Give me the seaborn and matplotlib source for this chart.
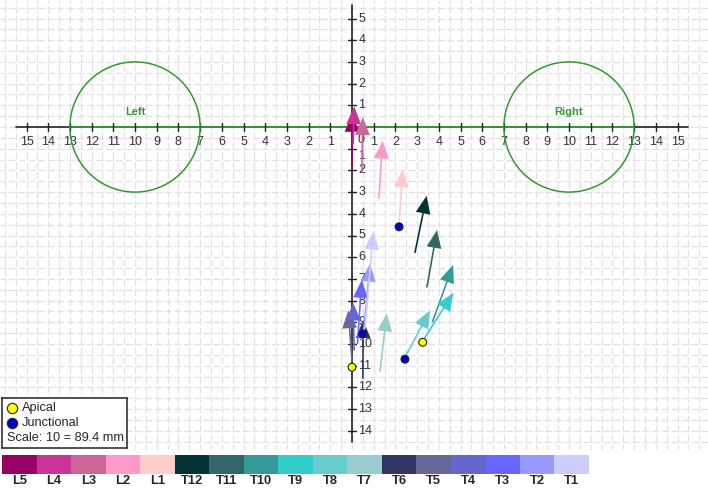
import matplotlib
matplotlib.use('Agg')
import matplotlib.pyplot as plt
from matplotlib.colors import ListedColormap
from matplotlib.patches import Circle
import seaborn as sns
import pandas as pd
import numpy as np

# vertebra levels and their colours
levels = ['L5', 'L4', 'L3', 'L2', 'L1', 'T12', 'T11', 'T10', 'T9',
          'T8', 'T7', 'T6', 'T5', 'T4', 'T3', 'T2', 'T1']
level_colors = ['#990066', '#cc3399', '#cc6699', '#ff99cc', '#ffcccc',
                '#003333', '#336666', '#339999', '#33cccc', '#66cccc',
                '#99cccc', '#333366', '#666699', '#6666cc', '#6666ff',
                '#9999ff', '#ccccff']

# arrow tails and tips (chart units)
tail_x = [0.0, 0.05, 0.45, 1.24, 2.17, 2.9, 3.45, 3.7, 3.3, 2.45, 1.29,
          0.5, 0.0, 0.1, 0.25, 0.5, 0.6]
tail_y = [-1.9, -0.8, -2.1, -3.3, -4.5, -5.8, -7.4, -9.0, -9.8, -10.6,
          -11.27, -11.6, -10.8, -10.3, -10.0, -9.8, -9.3]
tip_x = [0.0, 0.1, 0.5, 1.41, 2.33, 3.44, 3.92, 4.66, 4.67, 3.6, 1.6,
         0.52, -0.17, 0.05, 0.45, 0.83, 0.98]
tip_y = [0.6, 0.95, 0.45, -0.63, -1.95, -3.17, -4.75, -6.36, -7.64,
         -8.45, -8.59, -8.9, -8.45, -8.1, -7.05, -6.3, -4.82]

# apical / junctional points
point_kind = ['Apical', 'Apical', 'Junctional', 'Junctional', 'Junctional']
point_x = [3.26, 0.0, 2.17, 2.44, 0.49]
point_y = [-9.92, -11.07, -4.6, -10.7, -9.54]

x_ticks = list(range(-15, 16))
y_ticks = list(range(-14, 6))

sns.set_style('white')
plt.rcParams['font.family'] = ['Liberation Sans', 'DejaVu Sans']

fig = plt.figure(figsize=(7.08, 4.88), dpi=100)
ax = fig.add_axes([0, 1 - 450 / 488, 1, 450 / 488])
ax.set_xlim(-352 / 21.7, (708 - 352) / 21.7)
ax.set_ylim(-(450 - 127) / 21.7, 127 / 21.7)
ax.set_aspect('equal')
ax.axis('off')

# background grid
grid_vals_x = np.arange(-16, 16.6, 0.5)
grid_vals_y = np.arange(-15, 6.1, 0.5)
for gx in grid_vals_x:
    ax.axvline(gx, color='#e2e2e2', lw=0.9, ls=(1.2, (5.6, 2.2)), zorder=0)
for gy in grid_vals_y:
    ax.axhline(gy, color='#e2e2e2', lw=0.9, ls=(1.2, (5.6, 2.2)), zorder=0)

# axes
ax.plot([-15.5, 15.5], [0, 0], color='#222222', lw=1.2, zorder=1)
ax.plot([-13, 13], [0, 0], color='#339933', lw=1.4, zorder=1)
ax.plot([0, 0], [-14.5, 5.6], color='#222222', lw=1.2, zorder=1)
for t in x_ticks:
    ax.plot([t, t], [-0.2, 0.2], color='#222222', lw=1, zorder=1)
    lab = str(abs(t))
    xpos = 0.4 if t == 0 else t
    ypos = -0.6 if t == 0 else -0.7
    ax.text(xpos, ypos, lab, ha='center', va='center', fontsize=9,
            color='#333333', zorder=1)
for t in y_ticks:
    if t == 0:
        continue
    ax.plot([-0.2, 0.2], [t, t], color='#222222', lw=1, zorder=1)
    ypos = -1.32 if t == -1 else t
    ax.text(0.3, ypos, str(abs(t)), ha='left', va='center', fontsize=9,
            color='#333333', zorder=1)

# left / right circles
for cx, name in [(-10, 'Left'), (10, 'Right')]:
    ax.add_patch(Circle((cx, 0), 3, fill=False, ec='#339933', lw=1.1,
                        zorder=1))
    ax.text(cx, 0.68, name, ha='center', va='center', fontsize=8,
            color='#339933', fontweight='bold', zorder=1)

# vertebra arrows
for i in range(len(levels)):
    ax.arrow(tail_x[i], tail_y[i], tip_x[i] - tail_x[i], tip_y[i] - tail_y[i],
             width=0.075, head_width=0.68, head_length=0.82,
             length_includes_head=True, color=level_colors[i], lw=0,
             zorder=3)

pts = pd.DataFrame({'x': point_x, 'y': point_y, 'kind': point_kind})
sns.scatterplot(data=pts, x='x', y='y', hue='kind',
                palette={'Apical': '#ffff00', 'Junctional': '#0000cc'},
                s=32, edgecolor='#222222', linewidth=0.8, legend=False,
                ax=ax, zorder=5)

# legend box
ax_leg = fig.add_axes([2 / 708, 1 - 448 / 488, 125 / 708, 50 / 488])
ax_leg.set_xlim(0, 125)
ax_leg.set_ylim(50, 0)
ax_leg.set_xticks([])
ax_leg.set_yticks([])
for sp in ax_leg.spines.values():
    sp.set_visible(True)
    sp.set_color('#333333')
    sp.set_linewidth(1.2)
ax_leg.set_facecolor('white')
ax_leg.scatter([10], [10], s=55, c='#ffff00', edgecolors='#222222', lw=0.8)
ax_leg.scatter([10], [25], s=55, c='#0000cc', edgecolors='#222222', lw=0.8)
ax_leg.text(20, 10, 'Apical', va='center', fontsize=9.2)
ax_leg.text(20, 25, 'Junctional', va='center', fontsize=9.2)
ax_leg.text(5, 40, 'Scale: 10 = 89.4 mm', va='center', fontsize=9.2)

# colour key
ax_key = fig.add_axes([2 / 708, 1 - 474 / 488, 587 / 708, 19 / 488])
key = pd.DataFrame([list(range(len(levels)))], columns=levels)
sns.heatmap(key, cmap=ListedColormap(level_colors), cbar=False,
            xticklabels=levels, yticklabels=False, ax=ax_key)
ax_key.tick_params(axis='x', length=0, pad=0.5, labelsize=9.3)
for lbl in ax_key.get_xticklabels():
    lbl.set_fontweight('bold')
    lbl.set_rotation(0)

fig.savefig('out.png', dpi=100)
